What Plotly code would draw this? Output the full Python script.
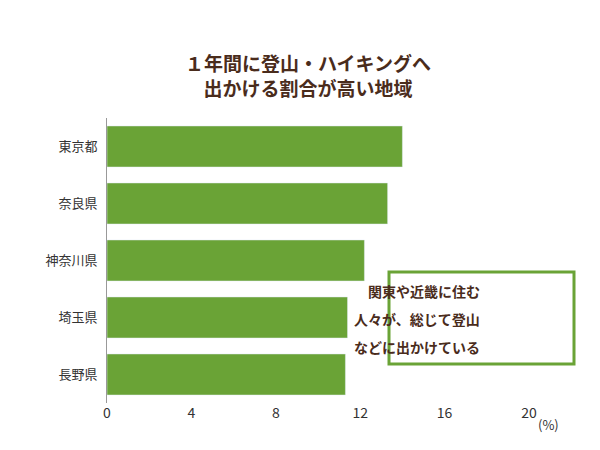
import plotly.graph_objects as go

regions = ["東京都", "奈良県", "神奈川県", "埼玉県", "長野県"]
values = [14.0, 13.3, 12.2, 11.4, 11.3]
ticks = [0, 4, 8, 12, 16, 20]
note_lines = ["関東や近畿に住む", "人々が、総じて登山", "などに出かけている"]

font = "Noto Sans CJK JP"
brown = "#4a2c1c"
green = "#6aa336"

def py(px):
    return (395 - px) / 285

def pxx(px):
    return (px - 99) / 422

fig = go.Figure(go.Bar(x=values, y=regions, orientation="h", marker_color=green, width=0.72))
anns = [dict(text="<b>%s</b>" % t, xref="paper", yref="paper", x=pxx(473.5), y=py(283 + 28 * i),
             showarrow=False, yanchor="middle", font=dict(size=14, color=brown, family=font))
        for i, t in enumerate(note_lines)]
anns.append(dict(text="(%)", xref="paper", yref="paper", x=pxx(553), y=py(416),
                 showarrow=False, yanchor="middle", font=dict(size=13, color="#333")))
fig.update_layout(
    width=600, height=450, margin=dict(l=99, r=79, t=110, b=55, autoexpand=False),
    paper_bgcolor="white", plot_bgcolor="white", showlegend=False,
    font=dict(family=font, color="#333", size=13),
    title=dict(text="<b>１年間に登山・ハイキングへ<br>出かける割合が高い地域</b>", x=0.5, xanchor="center",
               y=0.86, yanchor="middle", font=dict(size=19, color=brown, family=font)),
    xaxis=dict(range=[0, 20], tickvals=ticks, showgrid=False, zeroline=False, showline=False,
               ticks="", automargin=False, tickfont=dict(size=14, color="#333")),
    yaxis=dict(autorange="reversed", showline=True, linecolor="#999", linewidth=1, automargin=False,
               ticks="", ticklabelstandoff=6, tickfont=dict(size=13, color="#333")),
    shapes=[dict(type="rect", xref="paper", yref="paper", x0=pxx(381), x1=pxx(566),
                 y0=py(356), y1=py(264), line=dict(color=green, width=3), fillcolor="white", layer="above")],
    annotations=anns,
)
fig.write_html("out.html")
